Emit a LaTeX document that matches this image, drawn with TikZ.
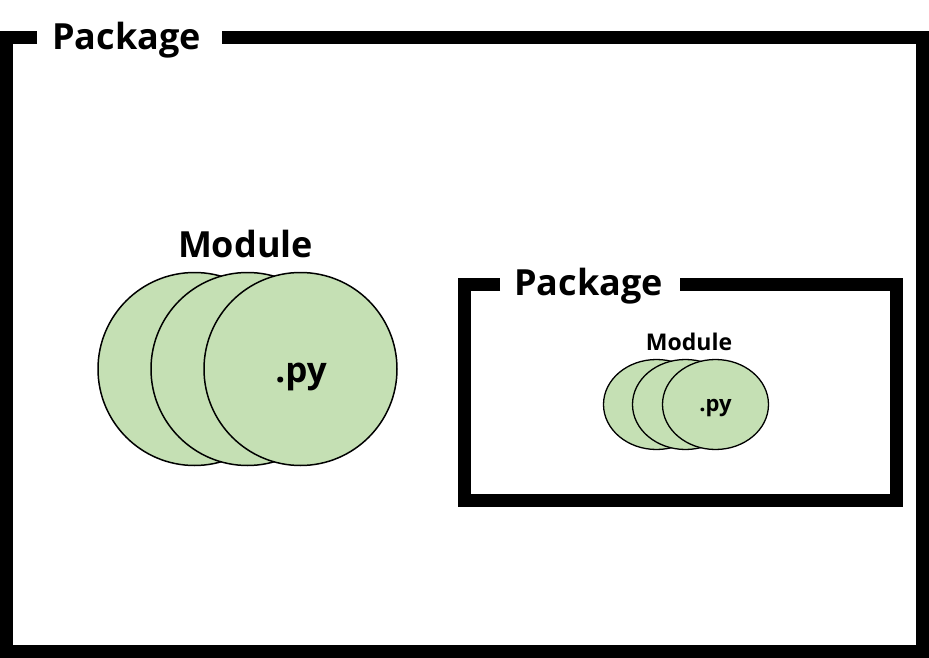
\documentclass[tikz,border=0pt]{standalone}
\usepackage{fontspec}
\setmainfont{Open Sans}
\usetikzlibrary{shapes.geometric}
\definecolor{modgreen}{HTML}{C5E0B4}
\begin{document}
\begin{tikzpicture}[x=1pt,y=-1pt,
  frame/.style={line width=13pt, line cap=butt, line join=miter},
  bigmod/.style={circle, draw=black, line width=1.5pt, fill=modgreen, minimum size=193pt, inner sep=0pt},
  smallmod/.style={ellipse, draw=black, line width=1.3pt, fill=modgreen, minimum width=106pt, minimum height=90pt, inner sep=0pt},
  lbl/.style={anchor=base, inner sep=0pt, font=\bfseries\fontsize{#1}{#1}\selectfont},
  lbl/.default=36]
\useasboundingbox (0,0) rectangle (929,658);
% outer package frame
\draw[frame, line width=12.5pt] (37,37.5) -- (6.25,37.5) -- (6.25,651.5) -- (922.5,651.5) -- (922.5,37.5) -- (222,37.5);
\node[lbl] (pkgouter) at (126.5,50) {Package};
% big module
\node[lbl] (modbig) at (245.5,257) {Module};
\node[bigmod] (c1) at (194.5,369) {};
\node[bigmod] (c2) at (247.5,369) {};
\node[bigmod] (c3) at (300.5,369) {};
\node[lbl=35] (pybig) at (301,382) {.py};
% inner package frame
\draw[frame] (500,284) -- (464.5,284) -- (464.5,500) -- (896,500) -- (896,284) -- (680,284);
\node[lbl] (pkginner) at (588.5,295) {Package};
% small module
\node[lbl=23] (modsmall) at (689,350) {Module};
\node[smallmod] (e1) at (656.5,404.5) {};
\node[smallmod] (e2) at (685.5,404.5) {};
\node[smallmod] (e3) at (715.5,404.5) {};
\node[lbl=22] (pysmall) at (715.5,411) {.py};
\end{tikzpicture}
\end{document}
